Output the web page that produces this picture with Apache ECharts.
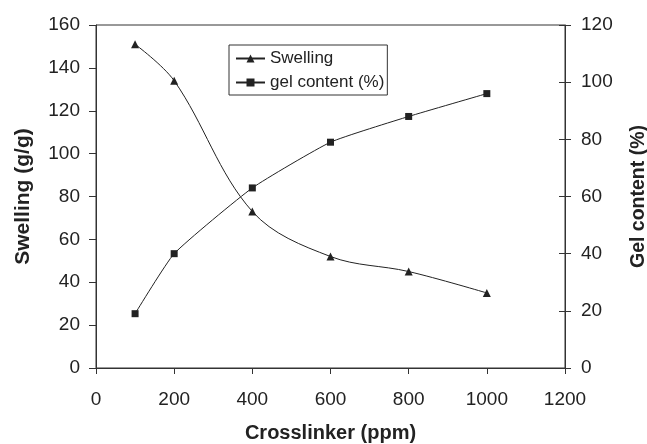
<!DOCTYPE html>
<html><head><meta charset="utf-8">
<script src="https://cdn.jsdelivr.net/npm/echarts@6/dist/echarts.min.js"></script>
<style>html,body{margin:0;padding:0;background:#fff}#c{width:647px;height:444px}</style>
</head><body><div id="c"></div>
<script>
const crosslinker = [100, 200, 400, 600, 800, 1000];
const swelling = [151, 134, 73, 52, 45, 35];
const gelContent = [19, 40, 63, 79, 88, 96];

const pair = (xs, ys) => xs.map((x, i) => [x, ys[i]]);
const font = 'Liberation Sans, Arial, sans-serif';
const ink = '#222';
const axisText = {color: ink, fontSize: 19, fontFamily: font};
const nameText = (s) => ({color: ink, fontSize: s, fontWeight: 'bold', fontFamily: font});
const plain = (v) => String(v);

const chart = echarts.init(document.getElementById('c'));
chart.setOption({
  animation: false,
  grid: {left: 96, right: 82, top: 25, bottom: 76, containLabel: false, outerBoundsMode: 'none',
         show: true, borderColor: '#333', borderWidth: 1},
  legend: {
    orient: 'vertical', left: 229, top: 45, padding: [5, 3, 4, 6], itemGap: 7,
    borderColor: '#333', borderWidth: 1, itemWidth: 29, itemHeight: 10,
    textStyle: {color: ink, fontSize: 17, fontFamily: font},
    data: ['Swelling', 'gel content (%)']
  },
  xAxis: {
    type: 'value', min: 0, max: 1200, interval: 200,
    name: 'Crosslinker (ppm)', nameLocation: 'middle', nameGap: 55, nameTextStyle: nameText(20),
    axisLine: {lineStyle: {color: '#333'}},
    axisTick: {show: true, inside: false, length: 6, lineStyle: {color: '#333'}},
    axisLabel: Object.assign({margin: 22, formatter: plain}, axisText),
    splitLine: {show: false}
  },
  yAxis: [
    {
      type: 'value', min: 0, max: 160, interval: 20, position: 'left',
      name: 'Swelling (g/g)', nameLocation: 'middle', nameGap: 62, nameTextStyle: nameText(21),
      axisLine: {show: true, lineStyle: {color: '#333'}},
      axisTick: {show: true, inside: false, length: 7, lineStyle: {color: '#333'}},
      axisLabel: Object.assign({margin: 16, formatter: plain}, axisText),
      splitLine: {show: false}
    },
    {
      type: 'value', min: 0, max: 120, interval: 20, position: 'right',
      name: 'Gel content (%)', nameLocation: 'middle', nameGap: 64, nameRotate: 90, nameTextStyle: nameText(19.5),
      axisLine: {show: true, lineStyle: {color: '#333'}},
      axisTick: {show: true, inside: false, length: 6, lineStyle: {color: '#333'}},
      axisLabel: Object.assign({margin: 16, formatter: plain}, axisText),
      splitLine: {show: false}
    },
    {
      type: 'value', min: 0, max: 120, interval: 20, position: 'right',
      axisLine: {show: false},
      axisTick: {show: true, inside: true, length: 6, lineStyle: {color: '#333'}},
      axisLabel: {show: false},
      splitLine: {show: false}
    }
  ],
  series: [
    {
      name: 'Swelling', type: 'line', yAxisIndex: 0, smooth: 0.35,
      data: pair(crosslinker, swelling),
      symbol: 'triangle', symbolSize: 8,
      lineStyle: {color: '#222', width: 1}, itemStyle: {color: '#222'}
    },
    {
      name: 'gel content (%)', type: 'line', yAxisIndex: 1, smooth: 0.15,
      data: pair(crosslinker, gelContent),
      symbol: 'rect', symbolSize: 7,
      lineStyle: {color: '#222', width: 1}, itemStyle: {color: '#222'}
    }
  ]
});
</script></body></html>
